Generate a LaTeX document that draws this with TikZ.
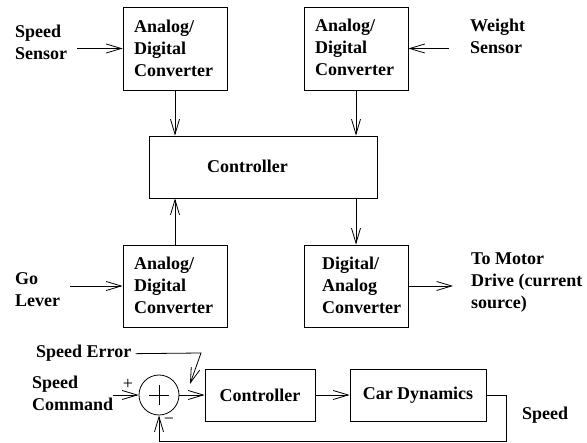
\documentclass[tikz,border=0pt]{standalone}
\usepackage{fontspec}
\setmainfont{Liberation Serif}
\usetikzlibrary{arrows.meta}
\tikzset{
  box/.style={draw, line width=0.8pt, inner sep=0pt, align=left},
  txt/.style={inner sep=0pt, align=left},
  arr/.style={line width=0.8pt, -{Straight Barb[length=15pt,width=9pt,line width=0.8pt]}},
  ln/.style={line width=0.8pt},
  sgn/.style={inner sep=0pt, font=\mdseries\fontsize{18}{18}\selectfont},
}
\begin{document}
\begin{tikzpicture}[x=1pt,y=-1pt,font=\bfseries\fontsize{18}{22}\selectfont]
\useasboundingbox (0,0) rectangle (587,443);
% top converters
\node[box, minimum width=104pt, minimum height=83pt] (adc1) at (175,48.5) {};
\node[txt, anchor=base west] (adc1t) at (134,77) {Analog/\\Digital\\Converter};
\node[box, minimum width=104pt, minimum height=83pt] (adc2) at (356,48.5) {};
\node[txt, anchor=base west] (adc2t) at (315,76) {Analog/\\Digital\\Converter};
\node[txt, anchor=base west] (spd) at (15,60) {Speed\\Sensor};
\node[txt, anchor=base west] (wgt) at (470,54) {Weight\\Sensor};
% controller
\node[box, minimum width=228pt, minimum height=62pt] (ctrl) at (263,167) {};
\node[txt, anchor=base] (ctrlt) at (247.5,173) {Controller};
% bottom converters
\node[box, minimum width=104pt, minimum height=82pt] (adc3) at (175,286) {};
\node[txt, anchor=base west] (adc3t) at (134,314) {Analog/\\Digital\\Converter};
\node[box, minimum width=104pt, minimum height=82pt] (dac) at (356,286) {};
\node[txt, anchor=base west] (dact) at (322,314) {Digital/\\Analog\\Converter};
\node[txt, anchor=base west] (go) at (15,307) {Go\\Lever};
\node[txt, anchor=base west] (motor) at (471,309) {To Motor\\Drive (current\\source)};
% arrows top part
\draw[arr] ([xshift=10pt]spd.east |- adc1.west) -- (adc1.west);
\draw[arr] ([xshift=-21pt]wgt.west |- adc2.east) -- (adc2.east);
\draw[arr] (adc1.south) -- (adc1.south |- ctrl.north);
\draw[arr] (adc2.south) -- (adc2.south |- ctrl.north);
\draw[arr] (adc3.north) -- (adc3.north |- ctrl.south);
\draw[arr] (dac.north |- ctrl.south) -- (dac.north);
\draw[arr] ([xshift=10pt]go.east |- adc3.west) -- (adc3.west);
\draw[arr] (dac.east) -- ([xshift=-18pt]motor.west |- dac.east);
% feedback loop
\node[draw, circle, line width=0.8pt, minimum size=40pt, inner sep=0pt] (sum) at (159,395) {};
\draw[ln] (sum.center) ++(-10pt,0) -- ++(20pt,0);
\draw[ln] (sum.center) ++(0,-10pt) -- ++(0,20pt);
\node[box, minimum width=110pt, minimum height=52pt, align=center] (ctrl2) at (260,395) {Controller};
\node[box, minimum width=136pt, minimum height=52pt, align=center] (car) at (418,395) {Car Dynamics};
\node[txt, anchor=base west] (serr) at (36,358) {Speed Error};
\node[txt, anchor=base west] (scmd) at (32,411) {Speed\\Command};
\node[txt, anchor=base west] (spdout) at (522,420) {Speed};
\node[sgn] (plus) at (128,384) {+};
\node[sgn] (minus) at (169,421) {−};
\coordinate (serrc) at (201,353);
\coordinate (serrtip) at (190,384);
\coordinate (fb) at (506,441);
\draw[arr] ([xshift=4pt]serr.east) -- (serrc) -- (serrtip);
\draw[arr] (scmd.east |- sum.west) -- (sum.west);
\draw[arr] (sum.east) -- (ctrl2.west);
\draw[arr] (ctrl2.east) -- (car.west);
\draw[arr] (car.east) -| (fb) -| (sum.south);
\end{tikzpicture}
\end{document}
